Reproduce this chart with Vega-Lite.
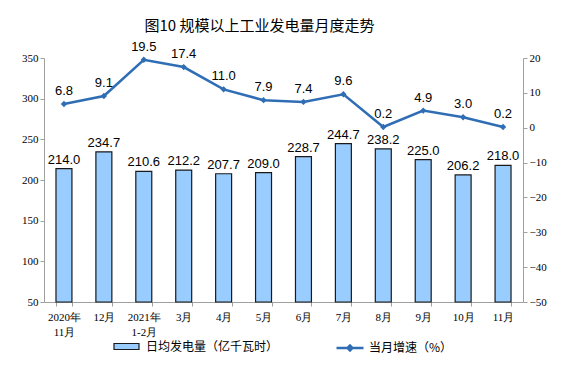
{
  "$schema": "https://vega.github.io/schema/vega-lite/v6.json",
  "width": 479,
  "height": 244,
  "autosize": {"type": "none"},
  "padding": {"left": 44, "top": 58, "right": 46, "bottom": 71},
  "background": "white",
  "title": {
    "text": "图10 规模以上工业发电量月度走势",
    "font": "Noto Sans CJK SC",
    "fontSize": 15,
    "fontWeight": "normal",
    "color": "#000000",
    "anchor": "middle",
    "dx": -24,
    "offset": 7
  },
  "config": {
    "view": {"stroke": null},
    "axis": {
      "grid": false,
      "domainColor": "#A0A0A0",
      "tickColor": "#A0A0A0",
      "tickSize": 4,
      "labelFont": "Liberation Serif",
      "labelFontSize": 11,
      "labelColor": "#000000",
      "title": null
    }
  },
  "data": {
    "values": [
      {"month": "2020年|11月", "output": 214.0, "growth": 6.8},
      {"month": "12月", "output": 234.7, "growth": 9.1},
      {"month": "2021年|1-2月", "output": 210.6, "growth": 19.5},
      {"month": "3月", "output": 212.2, "growth": 17.4},
      {"month": "4月", "output": 207.7, "growth": 11.0},
      {"month": "5月", "output": 209.0, "growth": 7.9},
      {"month": "6月", "output": 228.7, "growth": 7.4},
      {"month": "7月", "output": 244.7, "growth": 9.6},
      {"month": "8月", "output": 238.2, "growth": 0.2},
      {"month": "9月", "output": 225.0, "growth": 4.9},
      {"month": "10月", "output": 206.2, "growth": 3.0},
      {"month": "11月", "output": 218.0, "growth": 0.2}
    ]
  },
  "encoding": {
    "x": {
      "field": "month",
      "type": "nominal",
      "sort": null,
      "scale": {"paddingInner": 0.6, "paddingOuter": 0.3},
      "axis": {
        "labelAngle": 0,
        "labelExpr": "datum.value ? split(datum.value, '|') : ''",
        "tickBand": "extent",
        "labelPadding": 5,
        "labelLineHeight": 15
      }
    }
  },
  "layer": [
    {
      "encoding": {
        "y": {
          "field": "output",
          "type": "quantitative",
          "scale": {"domain": [50, 350], "zero": false, "nice": false},
          "axis": {"values": [50, 100, 150, 200, 250, 300, 350], "orient": "left"}
        }
      },
      "layer": [
        {
          "mark": {"type": "bar", "stroke": "#1A1A1A", "strokeWidth": 1.2},
          "encoding": {
            "y2": {"datum": 50},
            "fill": {
              "datum": "日均发电量（亿千瓦时）",
              "type": "nominal",
              "scale": {"range": ["#99CCFF"]},
              "legend": {
                "orient": "none",
                "legendX": 69,
                "legendY": 275,
                "title": null,
                "symbolType": "M-1,-0.24H1V0.24H-1Z",
                "symbolSize": 625,
                "symbolStrokeColor": "#1A1A1A",
                "symbolStrokeWidth": 1.2,
                "labelFont": "Noto Sans CJK SC",
                "labelFontSize": 12,
                "labelColor": "#000000",
                "labelOffset": 6
              }
            }
          }
        },
        {
          "mark": {"type": "text", "baseline": "bottom", "dy": -2, "font": "Liberation Sans", "fontSize": 13, "color": "#000000"},
          "encoding": {
            "text": {"field": "output", "type": "quantitative", "format": ".1f"}
          }
        }
      ]
    },
    {
      "encoding": {
        "y": {
          "field": "growth",
          "type": "quantitative",
          "scale": {"domain": [-50, 20], "nice": false},
          "axis": {"values": [-50, -40, -30, -20, -10, 0, 10, 20], "orient": "right"}
        }
      },
      "layer": [
        {
          "mark": {"type": "line", "strokeWidth": 2.5},
          "encoding": {
            "stroke": {
              "datum": "当月增速（%）",
              "type": "nominal",
              "scale": {"range": ["#2F6EB5"]},
              "legend": {
                "orient": "none",
                "legendX": 291,
                "legendY": 275,
                "title": null,
                "symbolType": "M-1,0H1M-0.18,0L0,-0.18L0.18,0L0,0.18Z",
                "symbolSize": 729,
                "symbolStrokeWidth": 2.5,
                "symbolFillColor": "#2F6EB5",
                "labelFont": "Noto Sans CJK SC",
                "labelFontSize": 12,
                "labelColor": "#000000",
                "labelOffset": 4
              }
            }
          }
        },
        {
          "mark": {"type": "point", "shape": "diamond", "filled": true, "size": 40, "color": "#2F6EB5", "opacity": 1},
          "encoding": {}
        },
        {
          "mark": {"type": "text", "baseline": "bottom", "dy": -6, "font": "Liberation Sans", "fontSize": 13, "color": "#000000"},
          "encoding": {
            "text": {"field": "growth", "type": "quantitative", "format": ".1f"}
          }
        }
      ]
    }
  ],
  "resolve": {"scale": {"y": "independent", "fill": "independent", "stroke": "independent"}}
}
